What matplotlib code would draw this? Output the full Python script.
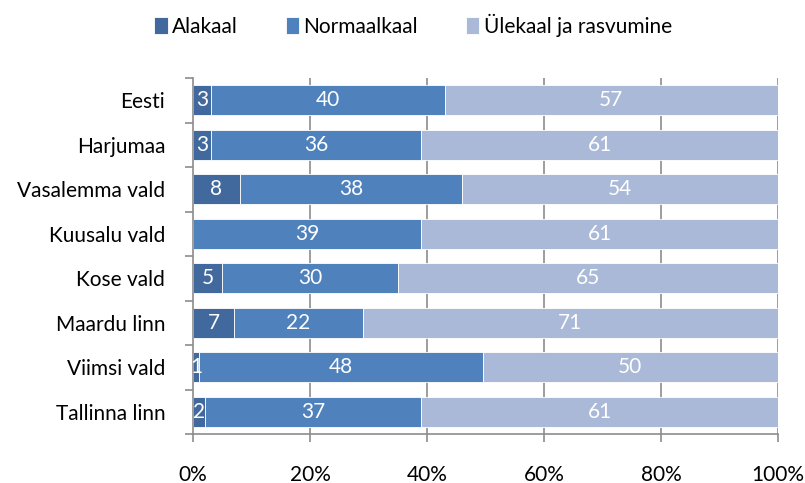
import matplotlib
matplotlib.use("Agg")
import matplotlib.pyplot as plt
import numpy as np

plt.rcParams['font.family'] = ['Lato', 'DejaVu Sans']

categories = ["Eesti", "Harjumaa", "Vasalemma vald", "Kuusalu vald",
              "Kose vald", "Maardu linn", "Viimsi vald", "Tallinna linn"]
series_names = ["Alakaal", "Normaalkaal", "Ülekaal ja rasvumine"]
alakaal = [3, 3, 8, 0, 5, 7, 1, 2]
normaalkaal = [40, 36, 38, 39, 30, 22, 48, 37]
ylekaal = [57, 61, 54, 61, 65, 71, 50, 61]
tick_labels = ["0%", "20%", "40%", "60%", "80%", "100%"]

colors = ["#41699E", "#4F81BD", "#AAB9D7"]
FS = 15

fig = plt.figure(figsize=(8.05, 4.83), dpi=100)
ax = fig.add_axes([193 / 805, 1 - 434 / 483, (778 - 193) / 805, (434 - 78) / 483])

data = np.array([alakaal, normaalkaal, ylekaal], dtype=float)
totals = data.sum(axis=0)
shares = data / totals * 100
y = np.arange(len(categories))

ax.set_axisbelow(True)
for xv in [20, 40, 60, 80, 100]:
    ax.axvline(xv, color="#8C8C8C", lw=1.2, zorder=0)

left = np.zeros(len(categories))
for i, name in enumerate(series_names):
    ax.barh(y, shares[i], left=left, height=0.67, color=colors[i],
            edgecolor="white", linewidth=0.6, label=name, zorder=2)
    for j, v in enumerate(data[i]):
        if v > 0:
            ax.text(left[j] + shares[i][j] / 2, y[j], f"{int(v)}",
                    ha="center", va="center", color="white", fontsize=FS, zorder=3)
    left += shares[i]

ax.set_xlim(0, 100)
ax.set_ylim(len(categories) - 0.5, -0.5)
ax.set_xticks([0, 20, 40, 60, 80, 100])
ax.set_xticklabels(tick_labels, fontsize=FS)
ax.set_yticks(y)
ax.set_yticklabels(categories, fontsize=FS)
ax.tick_params(axis="y", length=0, pad=20)
ax.set_yticks(np.arange(-0.5, len(categories) + 0.5, 1), minor=True)
ax.tick_params(axis="y", which="minor", length=6, color="#8C8C8C", width=1.2)
ax.tick_params(axis="x", length=6, color="#8C8C8C", width=1.2, pad=16)

for s in ["top", "right"]:
    ax.spines[s].set_visible(False)
for s in ["left", "bottom"]:
    ax.spines[s].set_color("#8C8C8C")
    ax.spines[s].set_linewidth(1.2)

fig.legend(loc="center", bbox_to_anchor=(0.513, 1 - 25 / 483), ncol=3,
           frameon=False, fontsize=FS, handlelength=0.65, handleheight=0.85,
           handletextpad=0.2, columnspacing=2.3)

fig.savefig("out.png", dpi=100)
